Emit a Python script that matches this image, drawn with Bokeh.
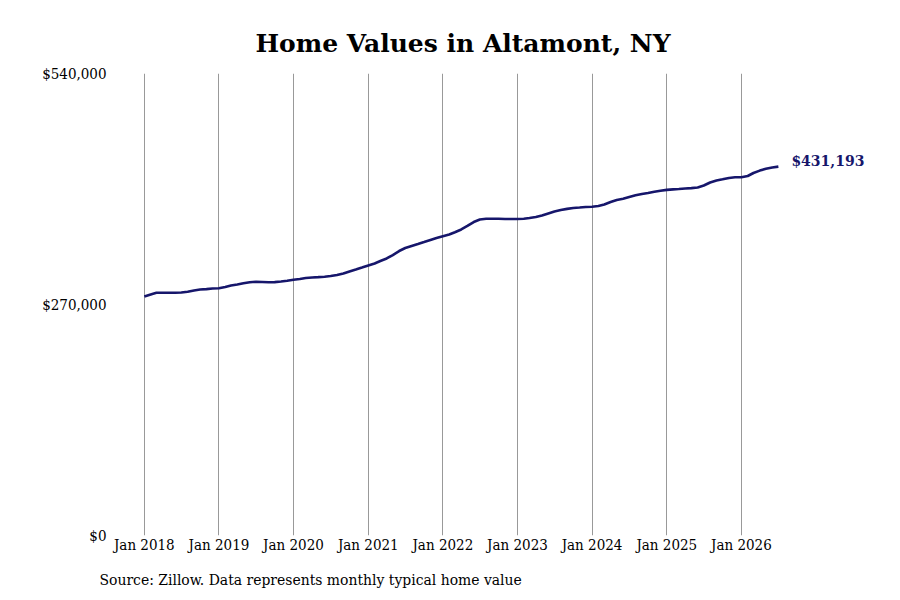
import pandas as pd
from bokeh.plotting import figure
from bokeh.models import Range1d, FixedTicker, NumeralTickFormatter, DatetimeTickFormatter, Label, Title
from bokeh.embed import file_html
from bokeh.resources import INLINE

# Monthly typical home value, Altamont NY, Jan 2018 .. Jul 2026
values_2018 = [279300, 281700, 283700, 283700, 283700, 283700, 284000, 285000, 286400, 287500, 288000, 288700]
values_2019 = [289000, 290500, 292200, 293400, 294800, 296000, 296500, 296300, 296000, 296200, 296900, 297800]
values_2020 = [298900, 299800, 301000, 301600, 302000, 302500, 303300, 304500, 306200, 308600, 310900, 313200]
values_2021 = [315600, 318000, 320800, 323800, 327800, 332500, 336000, 338400, 340700, 343000, 345400, 347700]
values_2022 = [349800, 351800, 354500, 357700, 361800, 366400, 369300, 370200, 370200, 370200, 369900, 369900]
values_2023 = [369900, 370300, 371100, 372300, 374000, 376400, 378700, 380500, 381800, 382800, 383400, 384000]
values_2024 = [384300, 385100, 386900, 389800, 392200, 393500, 395600, 397600, 399100, 400300, 401700, 402900]
values_2025 = [404000, 404600, 405000, 405600, 406000, 406700, 409100, 412600, 414900, 416300, 417900, 418700]
values_2026 = [418800, 420200, 423700, 426500, 428600, 430200, 431193]

values = (values_2018 + values_2019 + values_2020 + values_2021 + values_2022
          + values_2023 + values_2024 + values_2025 + values_2026)
dates = pd.date_range("2018-01-01", periods=len(values), freq="MS")

tick_years = list(range(2018, 2027))
y_ticks = [0, 270000, 540000]
title = "Home Values in Altamont, NY"
source_note = "Source: Zillow. Data represents monthly typical home value"

navy = "#16166b"
serif = "DejaVu Serif"
serif_narrow = "DejaVu Serif Condensed"

p = figure(width=884, height=600, x_axis_type="datetime",
           x_range=Range1d(pd.Timestamp("2017-08-08"), pd.Timestamp("2027-11-03")),
           y_range=Range1d(0, 540000),
           output_backend="svg", toolbar_location=None,
           min_border_left=114, min_border_right=6, min_border_top=73, min_border_bottom=65)
p.outline_line_color = None

p.title.text = title
p.title.align = "left"
p.title.offset = 141
p.title.text_font = serif
p.title.text_font_size = "25px"
p.title.text_font_style = "bold"
p.title.text_color = "black"
p.title.standoff = 31

p.line(dates, values, line_color=navy, line_width=2.6)

# axes
tick_ms = [pd.Timestamp(f"{y}-01-01").value // 10**6 for y in tick_years]
p.xaxis.ticker = FixedTicker(ticks=tick_ms)
p.xaxis.formatter = DatetimeTickFormatter(years="%b %Y", months="%b %Y", days="%b %Y")
p.yaxis.ticker = FixedTicker(ticks=y_ticks)
p.yaxis.formatter = NumeralTickFormatter(format="$0,0")
for ax in (p.xaxis, p.yaxis):
    ax.axis_line_color = None
    ax.major_tick_line_color = None
    ax.minor_tick_line_color = None
    ax.major_tick_out = 0
    ax.major_tick_in = 0
    ax.minor_tick_out = 0
    ax.major_label_text_font = serif_narrow
    ax.major_label_text_font_size = "15px"
    ax.major_label_text_color = "black"
p.xaxis.major_label_standoff = 0
p.yaxis.major_label_standoff = 8

p.xgrid.grid_line_color = "#999999"
p.xgrid.grid_line_width = 1
p.ygrid.grid_line_color = None

# end value label
end_label = Label(x=dates[-1], y=values[-1], text=f"${values[-1]:,}", x_offset=13, y_offset=6,
                  text_baseline="middle", text_font=serif, text_font_style="bold",
                  text_font_size="14px", text_color=navy)
p.add_layout(end_label)

note = Title(text=source_note, align="left", offset=-15, standoff=24,
             text_font=serif_narrow, text_font_size="15.5px", text_font_style="normal", text_color="black")
p.add_layout(note, "below")

open("out.html", "w").write(file_html(p, INLINE))
